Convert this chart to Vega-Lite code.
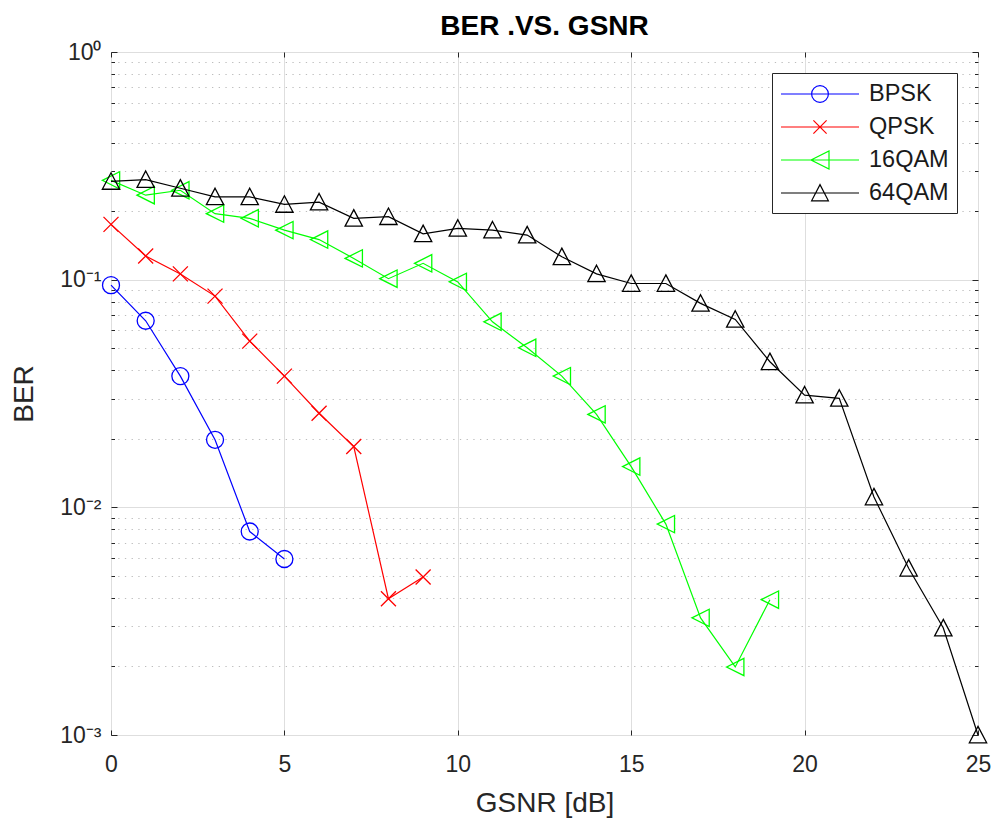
{
  "$schema": "https://vega.github.io/schema/vega-lite/v6.json",
  "autosize": {"type": "none"},
  "padding": {"left": 111, "top": 52, "right": 16, "bottom": 85},
  "width": 867,
  "height": 683,
  "background": "white",
  "config": {
    "font": "Liberation Sans",
    "view": {"stroke": "#262626", "strokeWidth": 1},
    "axis": {"labelFont": "Liberation Sans", "titleFont": "Liberation Sans", "labelColor": "#262626", "titleColor": "#262626", "tickColor": "#262626", "domain": false, "labelFontSize": 23, "titleFontSize": 28, "titleFontWeight": "normal"}
  },
  "title": {"text": "BER .VS. GSNR", "fontSize": 28, "fontWeight": "bold", "color": "#000000", "font": "Liberation Sans", "offset": 0, "anchor": "middle"},
  "data": {"values": [
    {"x": 0, "ber": 0.0946, "s": "BPSK"},
    {"x": 1, "ber": 0.066, "s": "BPSK"},
    {"x": 2, "ber": 0.0377, "s": "BPSK"},
    {"x": 3, "ber": 0.0198, "s": "BPSK"},
    {"x": 4, "ber": 0.00783, "s": "BPSK"},
    {"x": 5, "ber": 0.00593, "s": "BPSK"},
    {"x": 0, "ber": 0.175, "s": "QPSK"},
    {"x": 1, "ber": 0.127, "s": "QPSK"},
    {"x": 2, "ber": 0.106, "s": "QPSK"},
    {"x": 3, "ber": 0.0847, "s": "QPSK"},
    {"x": 4, "ber": 0.0537, "s": "QPSK"},
    {"x": 5, "ber": 0.0377, "s": "QPSK"},
    {"x": 6, "ber": 0.0259, "s": "QPSK"},
    {"x": 7, "ber": 0.0185, "s": "QPSK"},
    {"x": 8, "ber": 0.00397, "s": "QPSK"},
    {"x": 9, "ber": 0.00494, "s": "QPSK"},
    {"x": 0, "ber": 0.273, "s": "16QAM"},
    {"x": 1, "ber": 0.235, "s": "16QAM"},
    {"x": 2, "ber": 0.247, "s": "16QAM"},
    {"x": 3, "ber": 0.195, "s": "16QAM"},
    {"x": 4, "ber": 0.186, "s": "16QAM"},
    {"x": 5, "ber": 0.165, "s": "16QAM"},
    {"x": 6, "ber": 0.15, "s": "16QAM"},
    {"x": 7, "ber": 0.124, "s": "16QAM"},
    {"x": 8, "ber": 0.101, "s": "16QAM"},
    {"x": 9, "ber": 0.118, "s": "16QAM"},
    {"x": 10, "ber": 0.0978, "s": "16QAM"},
    {"x": 11, "ber": 0.0653, "s": "16QAM"},
    {"x": 12, "ber": 0.0502, "s": "16QAM"},
    {"x": 13, "ber": 0.0377, "s": "16QAM"},
    {"x": 14, "ber": 0.0256, "s": "16QAM"},
    {"x": 15, "ber": 0.0151, "s": "16QAM"},
    {"x": 16, "ber": 0.00844, "s": "16QAM"},
    {"x": 17, "ber": 0.00327, "s": "16QAM"},
    {"x": 18, "ber": 0.00199, "s": "16QAM"},
    {"x": 19, "ber": 0.00393, "s": "16QAM"},
    {"x": 0, "ber": 0.27, "s": "64QAM"},
    {"x": 1, "ber": 0.275, "s": "64QAM"},
    {"x": 2, "ber": 0.252, "s": "64QAM"},
    {"x": 3, "ber": 0.231, "s": "64QAM"},
    {"x": 4, "ber": 0.231, "s": "64QAM"},
    {"x": 5, "ber": 0.214, "s": "64QAM"},
    {"x": 6, "ber": 0.219, "s": "64QAM"},
    {"x": 7, "ber": 0.186, "s": "64QAM"},
    {"x": 8, "ber": 0.189, "s": "64QAM"},
    {"x": 9, "ber": 0.159, "s": "64QAM"},
    {"x": 10, "ber": 0.168, "s": "64QAM"},
    {"x": 11, "ber": 0.165, "s": "64QAM"},
    {"x": 12, "ber": 0.157, "s": "64QAM"},
    {"x": 13, "ber": 0.126, "s": "64QAM"},
    {"x": 14, "ber": 0.106, "s": "64QAM"},
    {"x": 15, "ber": 0.0962, "s": "64QAM"},
    {"x": 16, "ber": 0.0962, "s": "64QAM"},
    {"x": 17, "ber": 0.0787, "s": "64QAM"},
    {"x": 18, "ber": 0.0669, "s": "64QAM"},
    {"x": 19, "ber": 0.0436, "s": "64QAM"},
    {"x": 20, "ber": 0.0311, "s": "64QAM"},
    {"x": 21, "ber": 0.0301, "s": "64QAM"},
    {"x": 22, "ber": 0.0111, "s": "64QAM"},
    {"x": 23, "ber": 0.0054, "s": "64QAM"},
    {"x": 24, "ber": 0.00295, "s": "64QAM"},
    {"x": 25, "ber": 0.001, "s": "64QAM"}
  ]},
  "resolve": {"axis": {"x": "independent", "y": "independent"}},
  "layer": [
    {
      "transform": [{"filter": "datum.s == 'BPSK'"}],
      "mark": {"type": "line", "color": "#0000ff", "strokeWidth": 1.2, "clip": false, "point": {"shape": "circle", "size": 289, "filled": false, "stroke": "#0000ff", "strokeWidth": 1.3}},
      "encoding": {
        "x": {"field": "x", "type": "quantitative", "scale": {"domain": [0, 25], "nice": false, "zero": false},
          "axis": {"orient": "bottom", "values": [0, 5, 10, 15, 20, 25], "title": "GSNR [dB]", "grid": true, "gridColor": "#dedede", "gridWidth": 1, "tickSize": -5, "labelPadding": 23, "titlePadding": 13, "labelFlush": false}},
        "y": {"field": "ber", "type": "quantitative", "scale": {"type": "log", "domain": [0.001, 1], "nice": false},
          "axis": {"orient": "left", "title": "BER", "titlePadding": 21,
            "values": [0.001, 0.002, 0.003, 0.004, 0.005, 0.006, 0.007, 0.008, 0.009, 0.01, 0.02, 0.03, 0.04, 0.05, 0.06, 0.07, 0.08, 0.09, 0.1, 0.2, 0.3, 0.4, 0.5, 0.6, 0.7, 0.8, 0.9, 1],
            "labelExpr": "datum.value == 1 ? '10⁰' : datum.value == 0.1 ? '10⁻¹' : datum.value == 0.01 ? '10⁻²' : datum.value == 0.001 ? '10⁻³' : ''",
            "labelOverlap": false, "labelFlush": false, "labelPadding": 16, "labelBaseline": "middle",
            "grid": true,
            "gridColor": {"condition": {"test": "datum.value == 1 || datum.value == 0.1 || datum.value == 0.01 || datum.value == 0.001", "value": "#dedede"}, "value": "#bdbdbd"},
            "gridDash": {"condition": {"test": "datum.value == 1 || datum.value == 0.1 || datum.value == 0.01 || datum.value == 0.001", "value": []}, "value": [1.3, 5.4]},
            "tickSize": {"condition": {"test": "datum.value == 1 || datum.value == 0.1 || datum.value == 0.01 || datum.value == 0.001", "value": -6}, "value": -3.5}
          }}
      }
    },
    {
      "transform": [{"filter": "datum.s == 'QPSK'"}],
      "mark": {"type": "line", "color": "#ff0000", "strokeWidth": 1.2, "clip": false, "point": {"shape": "M-1,-1L1,1M-1,1L1,-1", "size": 225, "filled": false, "stroke": "#ff0000", "strokeWidth": 1.3}},
      "encoding": {
        "x": {"field": "x", "type": "quantitative", "axis": null},
        "y": {"field": "ber", "type": "quantitative", "axis": null}
      }
    },
    {
      "transform": [{"filter": "datum.s == '16QAM'"}],
      "mark": {"type": "line", "color": "#00ff00", "strokeWidth": 1.2, "clip": false, "point": {"shape": "M-1,0L1,-1L1,1Z", "size": 300, "filled": false, "stroke": "#00ff00", "strokeWidth": 1.3}},
      "encoding": {
        "x": {"field": "x", "type": "quantitative", "axis": null},
        "y": {"field": "ber", "type": "quantitative", "axis": null}
      }
    },
    {
      "transform": [{"filter": "datum.s == '64QAM'"}],
      "mark": {"type": "line", "color": "#000000", "strokeWidth": 1.2, "clip": false, "point": {"shape": "M0,-1L1,0.9L-1,0.9Z", "size": 300, "filled": false, "stroke": "#000000", "strokeWidth": 1.3}},
      "encoding": {
        "x": {"field": "x", "type": "quantitative", "axis": null},
        "y": {"field": "ber", "type": "quantitative", "axis": null}
      }
    },
    {
      "transform": [{"filter": "false"}],
      "mark": {"type": "point", "filled": false},
      "encoding": {
        "x": {"field": "x", "type": "quantitative",
          "axis": {"orient": "top", "values": [0, 5, 10, 15, 20, 25], "title": null, "labels": false, "grid": false, "tickSize": -5}},
        "y": {"field": "ber", "type": "quantitative",
          "axis": {"orient": "right", "title": null, "labels": false, "grid": false,
            "values": [0.001, 0.002, 0.003, 0.004, 0.005, 0.006, 0.007, 0.008, 0.009, 0.01, 0.02, 0.03, 0.04, 0.05, 0.06, 0.07, 0.08, 0.09, 0.1, 0.2, 0.3, 0.4, 0.5, 0.6, 0.7, 0.8, 0.9, 1],
            "tickSize": {"condition": {"test": "datum.value == 1 || datum.value == 0.1 || datum.value == 0.01 || datum.value == 0.001", "value": -6}, "value": -3.5}}},
        "stroke": {"field": "s", "type": "nominal",
          "scale": {"domain": ["BPSK", "QPSK", "16QAM", "64QAM"], "range": ["#0000ff", "#ff0000", "#00ff00", "#000000"]},
          "legend": {"title": null, "orient": "top-right", "offset": 21, "padding": 8, "strokeColor": "#262626", "fillColor": "#ffffff", "labelFont": "Liberation Sans", "labelFontSize": 23.5, "labelColor": "#1a1a1a", "symbolSize": 576, "symbolStrokeWidth": 1.2, "symbolOpacity": 1, "symbolOffset": 27, "labelOffset": 36, "rowPadding": 8}},
        "shape": {"field": "s", "type": "nominal",
          "scale": {"domain": ["BPSK", "QPSK", "16QAM", "64QAM"], "range": [
            "M-3.25,0H3.25M-0.7,0A0.7,0.7 0 1,0 0.7,0A0.7,0.7 0 1,0 -0.7,0",
            "M-3.25,0H3.25M-0.55,-0.55L0.55,0.55M-0.55,0.55L0.55,-0.55",
            "M-3.25,0H3.25M-0.75,0L0.75,-0.75L0.75,0.75Z",
            "M-3.25,0H3.25M0,-0.7L0.7,0.65L-0.7,0.65Z"]},
          "legend": {"title": null, "orient": "top-right", "offset": 21, "padding": 8, "strokeColor": "#262626", "fillColor": "#ffffff", "labelFont": "Liberation Sans", "labelFontSize": 23.5, "labelColor": "#1a1a1a", "symbolSize": 576, "symbolStrokeWidth": 1.2, "symbolOpacity": 1, "symbolOffset": 27, "labelOffset": 36, "rowPadding": 8}}
      }
    }
  ]
}
